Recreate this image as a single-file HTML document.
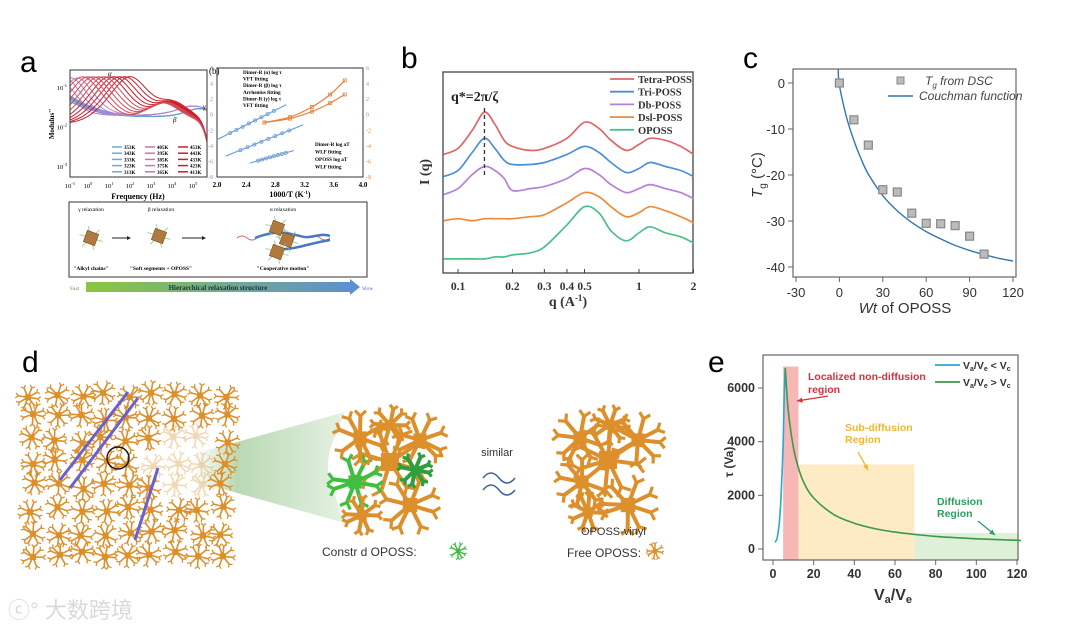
<!DOCTYPE html>
<html><head><meta charset="utf-8"><style>
html,body{margin:0;padding:0;background:#fff;width:1080px;height:628px;overflow:hidden}
svg{display:block}
text{font-family:"Liberation Sans",sans-serif}
.serif{font-family:"Liberation Serif",serif}
</style></head><body>
<svg id="fig" width="1080" height="628" viewBox="0 0 1080 628" xmlns="http://www.w3.org/2000/svg">
<defs>
<linearGradient id="arrowGrad" x1="0" x2="1"><stop offset="0" stop-color="#8cc63f"/><stop offset="1" stop-color="#5b8fd6"/></linearGradient>
<linearGradient id="coneGrad" x1="0" x2="1"><stop offset="0" stop-color="#fff" stop-opacity="0.6"/><stop offset="0.3" stop-color="#b9d9b4"/><stop offset="1" stop-color="#e6f1e2"/></linearGradient>
</defs>
<text x="20" y="72" font-size="30">a</text>
<text x="401" y="68" font-size="30">b</text>
<text x="743" y="68" font-size="30">c</text>
<text x="22" y="372" font-size="30">d</text>
<text x="708" y="372" font-size="30">e</text>

<g id="pa"></g>
<g id="pb"></g>
<g id="pc"></g>
<g id="pd"></g>
<g id="pe"></g>

<g opacity="0.55">
<text x="8" y="618" font-size="22" fill="#bbb" font-family="Liberation Sans, Noto Sans CJK SC, sans-serif">ⓒ° 大数跨境</text>
</g>
</svg>
<script>
const NS='http://www.w3.org/2000/svg';
function mk(tag,attrs,parent){const e=document.createElementNS(NS,tag);for(const k in attrs)e.setAttribute(k,attrs[k]);parent.appendChild(e);return e;}
function smooth(p){let d='M'+p[0][0].toFixed(1)+','+p[0][1].toFixed(1);for(let i=0;i<p.length-1;i++){const p0=p[i-1]||p[i],p1=p[i],p2=p[i+1],p3=p[i+2]||p2;const c1=[p1[0]+(p2[0]-p0[0])/6,p1[1]+(p2[1]-p0[1])/6],c2=[p2[0]-(p3[0]-p1[0])/6,p2[1]-(p3[1]-p1[1])/6];d+='C'+c1[0].toFixed(1)+','+c1[1].toFixed(1)+' '+c2[0].toFixed(1)+','+c2[1].toFixed(1)+' '+p2[0].toFixed(1)+','+p2[1].toFixed(1);}return d;}
function line(pts){return 'M'+pts.map(p=>p[0].toFixed(1)+','+p[1].toFixed(1)).join('L');}

/* ================= PANEL C ================= */
const cWt=[0,10,20,30,40,50,60,70,80,90,100];
const cTg=[0,-8,-13.5,-23.2,-23.7,-28.3,-30.5,-30.6,-31,-33.3,-37.2];
const cFitX=[-0.8,0,5,10,15,20,30,40,50,60,70,80,90,100,110,120];
const cFitY=[3,-0.5,-7.5,-12.5,-16.5,-19.8,-24.5,-27.8,-30.3,-32.3,-33.9,-35.3,-36.4,-37.3,-38.1,-38.7];
const cXTicks=[-30,0,30,60,90,120];
const cYTicks=[0,-10,-20,-30,-40];
(function(){
const g=document.getElementById('pc');
const X=v=>796+(v+30)*(217/150), Y=v=>83+(0-v)*4.6;
let el=mk('rect',{x:793,y:69,width:223,height:208,fill:'none',stroke:'#666','stroke-width':1.2},g);


cXTicks.forEach(t=>{let tk=mk('line',{x1:X(t),x2:X(t),y1:277,y2:282,stroke:'#666'},g);


let tl=mk('text',{x:X(t),y:297,'font-size':13,'text-anchor':'middle',fill:'#333'},g);tl.textContent=t;

});
cYTicks.forEach(t=>{let tk=mk('line',{x1:788,x2:793,y1:Y(t),y2:Y(t),stroke:'#666'},g);


let tl=mk('text',{x:785,y:Y(t)+5,'font-size':13,'text-anchor':'end',fill:'#333'},g);tl.textContent=t;

});
let cl=mk('clipPath',{id:'cclip'},g);mk('rect',{x:793,y:69,width:223,height:208},cl);
let fit=mk('path',{d:smooth(cFitX.map((x,i)=>[X(x),Y(cFitY[i])])),fill:'none',stroke:'#2f77b5','stroke-width':1.4,'clip-path':'url(#cclip)'},g);


cWt.forEach((w,i)=>{let m=mk('rect',{x:X(w)-4,y:Y(cTg[i])-4,width:8,height:8,fill:'#bbb',stroke:'#888','stroke-width':1.2},g);

});
let lm=mk('rect',{x:897,y:77,width:7,height:7,fill:'#bbb',stroke:'#888'},g);


let lt=mk('text',{x:925,y:85,'font-size':12,'font-style':'italic',fill:'#444'},g);lt.innerHTML='T<tspan font-size="8" dy="3">g</tspan><tspan dy="-3"> from DSC</tspan>';


let ll=mk('line',{x1:888,x2:913,y1:96,y2:96,stroke:'#2f77b5','stroke-width':1.5},g);


let lt2=mk('text',{x:919,y:100,'font-size':12,'font-style':'italic',fill:'#444'},g);lt2.textContent='Couchman function';


let yt=mk('text',{x:0,y:0,'font-size':15,fill:'#333',transform:'translate(762,175) rotate(-90)','text-anchor':'middle'},g);yt.innerHTML='<tspan font-style="italic">T</tspan><tspan font-size="10" dy="4">g</tspan><tspan dy="-4"> (°C)</tspan>';


let xt=mk('text',{x:905,y:313,'font-size':15,'text-anchor':'middle',fill:'#333'},g);xt.innerHTML='<tspan font-style="italic">Wt</tspan> of OPOSS';


})();

/* ================= PANEL E ================= */
const eBlueX=[1,2,3,4,5,5.5,6];
const eBlueY=[250,400,900,2000,4000,5700,6750];
const eGreenX=[6,7,8,10,12,15,20,30,40,50,60,70,80,90,100,110,122];
const eGreenY=[6750,5600,4800,3800,3150,2500,1900,1280,960,760,630,540,470,420,380,350,320];
const eRegionX=[5,12.5,69.5,122];
const eRegionTop=[6800,3150,600];
const eXTicks=[0,20,40,60,80,100,120];
const eYTicks=[0,2000,4000,6000];
(function(){
const g=document.getElementById('pe');
const X=v=>773+v*(244/120), Y=v=>549-v*(161/6000);
const cols=['#f7b7b7','#fdebc4','#dff0d8'],names=['region-localized','region-subdiffusion','region-diffusion'];
for(let i=0;i<3;i++){let r=mk('rect',{x:X(eRegionX[i]),y:Y(eRegionTop[i]),width:Math.min(X(eRegionX[i+1]),1018)-X(eRegionX[i]),height:560-Y(eRegionTop[i]),fill:cols[i]},g);

}
let el=mk('rect',{x:763,y:355,width:255,height:205,fill:'none',stroke:'#666','stroke-width':1.2},g);


eXTicks.forEach(t=>{let tk=mk('line',{x1:X(t),x2:X(t),y1:560,y2:565,stroke:'#666'},g);


let tl=mk('text',{x:X(t),y:578,'font-size':12.5,'font-weight':'bold','text-anchor':'middle',fill:'#333'},g);tl.textContent=t;

});
eYTicks.forEach(t=>{let tk=mk('line',{x1:758,x2:763,y1:Y(t),y2:Y(t),stroke:'#666'},g);


let tl=mk('text',{x:755,y:Y(t)+4,'font-size':12.5,'font-weight':'bold','text-anchor':'end',fill:'#333'},g);tl.textContent=t;

});
let b=mk('path',{d:smooth(eBlueX.map((x,i)=>[X(x),Y(eBlueY[i])])),fill:'none',stroke:'#2aa7d6','stroke-width':1.6},g);


let gr=mk('path',{d:smooth(eGreenX.map((x,i)=>[X(x),Y(eGreenY[i])])),fill:'none',stroke:'#3a9a4a','stroke-width':1.6},g);


[['#2aa7d6',365,'<'],['#3a9a4a',382,'>']].forEach(a=>{let l=mk('line',{x1:935,x2:960,y1:a[1],y2:a[1],stroke:a[0],'stroke-width':1.8},g);


let t=mk('text',{x:963,y:a[1]+4,'font-size':10.5,'font-weight':'bold',fill:'#333'},g);t.innerHTML='V<tspan font-size="7" dy="2">a</tspan><tspan dy="-2">/V</tspan><tspan font-size="7" dy="2">e</tspan><tspan dy="-2"> '+(a[2]=='<'?'&lt;':'&gt;')+' V</tspan><tspan font-size="7" dy="2">c</tspan>';

});
const ann=[['Localized non-diffusion',808,380,'#d9303a'],['region',808,393,'#d9303a'],['Sub-diffusion',845,431,'#f2b632'],['Region',845,443,'#f2b632'],['Diffusion',937,505,'#2e9e5e'],['Region',937,517,'#2e9e5e']];
ann.forEach(a=>{let t=mk('text',{x:a[1],y:a[2],'font-size':10.5,'font-weight':'bold',fill:a[3]},g);t.textContent=a[0];

});
[[828,396,797,401,'#d9303a'],[858,452,868,470,'#f2b632'],[978,521,995,535,'#2e9e5e']].forEach(a=>{let l=mk('line',{x1:a[0],y1:a[1],x2:a[2],y2:a[3],stroke:a[4],'stroke-width':1.3},g);


const ang=Math.atan2(a[3]-a[1],a[2]-a[0]);let h=mk('path',{d:`M${a[2]},${a[3]}L${a[2]-6*Math.cos(ang-0.45)},${a[3]-6*Math.sin(ang-0.45)}L${a[2]-6*Math.cos(ang+0.45)},${a[3]-6*Math.sin(ang+0.45)}Z`,fill:a[4]},g);

});
let yt=mk('text',{x:0,y:0,'font-size':12,'font-weight':'bold',fill:'#333',transform:'translate(733,462) rotate(-90)','text-anchor':'middle'},g);yt.textContent='τ (Va)';


let xt=mk('text',{x:893,y:600,'font-size':16,'font-weight':'bold','text-anchor':'middle',fill:'#333'},g);xt.innerHTML='V<tspan font-size="11" dy="3">a</tspan><tspan dy="-3">/V</tspan><tspan font-size="11" dy="3">e</tspan>';


})();

/* ================= PANEL B ================= */
const bQ=[0.083,0.1,0.12,0.14,0.16,0.18,0.2,0.25,0.3,0.4,0.5,0.6,0.7,0.85,1,1.15,1.4,1.7,2];
const bTetra=[59,62,71,80,74,66,63,61,62,67,75,72,66,61,64,67,66,63,59];
const bTri=[48,51,60,67,62,56,54,54,55,59,63,60,55,50,52,55,53,51,48];
const bDb=[39,42,49,53,51,47,41,42,43,47,52,49,44,40,42,44,42,40,37];
const bDsl=[26,27,26,27,27,27,27,28,29,35,40,38,33,28,30,33,31,28,25];
const bOposs=[7,7,7,7,8,8,9,10,13,24,33,30,21,16,20,23,20,18,15];
const bNames=['Tetra-POSS','Tri-POSS','Db-POSS','Dsl-POSS','OPOSS'];
const bXTicks=[0.1,0.2,0.3,0.4,0.5,1,2];
(function(){
const g=document.getElementById('pb');
const X=q=>458+Math.log10(q/0.1)*181, Y=v=>273-v*2.01;
const series=[bTetra,bTri,bDb,bDsl,bOposs],cols=['#e06666','#4a90d9','#b57fdc','#ef8a3c','#4cc08a'];
let el=mk('rect',{x:443,y:72,width:250,height:201,fill:'none',stroke:'#444','stroke-width':1.3},g);


series.forEach((s,k)=>{let p=mk('path',{d:smooth(bQ.map((q,i)=>[X(q),Y(s[i])])),fill:'none',stroke:cols[k],'stroke-width':1.7},g);


let l=mk('line',{x1:610,x2:634,y1:79+k*12.7,y2:79+k*12.7,stroke:cols[k],'stroke-width':1.8},g);


let t=mk('text',{x:638,y:83+k*12.7,'font-size':10.5,'font-weight':'bold',class:'serif',fill:'#333'},g);t.textContent=bNames[k];

});
let dl=mk('line',{x1:X(0.14),x2:X(0.14),y1:108,y2:178,stroke:'#333','stroke-dasharray':'4,3','stroke-width':1.3},g);


let qt=mk('text',{x:451,y:101,'font-size':14,'font-weight':'bold',class:'serif',fill:'#222'},g);qt.textContent='q*=2π/ζ';


bXTicks.forEach(t=>{let tk=mk('line',{x1:X(t),x2:X(t),y1:273,y2:269,stroke:'#444'},g);


let tl=mk('text',{x:X(t),y:290,'font-size':11.5,'font-weight':'bold',class:'serif','text-anchor':'middle',fill:'#333'},g);tl.textContent=t;

});
let yt=mk('text',{x:0,y:0,'font-size':14,'font-weight':'bold',class:'serif',fill:'#333',transform:'translate(429,172) rotate(-90)','text-anchor':'middle'},g);yt.textContent='I (q)';


let xt=mk('text',{x:568,y:306,'font-size':14,'font-weight':'bold',class:'serif','text-anchor':'middle',fill:'#333'},g);xt.innerHTML='q (A<tspan font-size="9" dy="-5">-1</tspan><tspan dy="5">)</tspan>';


})();

/* ================= PANEL A ================= */
const aRedPeaks=[2.0,1.75,1.5,1.25,1.0,0.75,0.5,0.25,0.0,-0.25];
const aPurplePeaks=[-0.5,-0.8,-1.1,-1.4,-1.7];
const aBlueLevels=[0.07,0.065,0.06,0.055,0.05];
const aAlpha=[[2.0,-3.2],[2.95,1.3]];
const aBeta=[[2.12,-5.3],[3.18,-1.3]];
const aGamma=[[2.45,-6.2],[3.05,-4.6]];
const aWlf1=[[2.65,-1],[3.0,-0.3],[3.3,1.0],[3.55,2.6],[3.75,4.4]];
const aWlf2=[[2.65,-1],[3.0,-0.5],[3.3,0.4],[3.55,1.5],[3.75,2.6]];
(function(){
const g=document.getElementById('pa');
const X=L=>88+L*21, Y=lm=>88-(lm+1)*39.5;
let cp=mk('clipPath',{id:'aclip'},g);mk('rect',{x:70,y:70,width:137,height:107},cp);
const D=x=>2*x/(1+x*x);
const Ls=[];for(let L=-1.2;L<=5.8;L+=0.1)Ls.push(L);
aBlueLevels.forEach((a,i)=>{const pts=Ls.map(L=>{let m=0.018+(a-0.018)*Math.pow(10,-0.45*(L+1))+0.012*D(Math.pow(10,0.8*(L-5.3)));return [X(L),Y(Math.log10(m))];});
let p=mk('path',{d:line(pts),fill:'none',stroke:['#5b9bd5','#6aa8dc','#4f8fcf','#7ab3e0','#5fa0d8'][i],'stroke-width':1.1,'clip-path':'url(#aclip)'},g);

});
aPurplePeaks.forEach((pk,i)=>{const pts=Ls.map(L=>{let m=0.16*D(Math.pow(10,L-pk))+0.02+0.015*D(Math.pow(10,0.7*(L-5)));return [X(L),Y(Math.log10(m))];});
let p=mk('path',{d:line(pts),fill:'none',stroke:'#b784c9','stroke-width':1,'clip-path':'url(#aclip)'},g);

});
aRedPeaks.forEach((pk,i)=>{const pts=Ls.map(L=>{let m=(0.18*D(Math.pow(10,0.85*(L-pk)))+0.03*D(Math.pow(10,0.7*(L-4+i*0.05)))+0.012)/(1+Math.pow(10,3*(L-5.55)));return [X(L),Y(Math.log10(m))];});
let p=mk('path',{d:line(pts),fill:'none',stroke:i<5?'#c8202b':'#d44a5a','stroke-width':1,'clip-path':'url(#aclip)'},g);

});
let f=mk('rect',{x:70,y:70,width:137,height:107,fill:'none',stroke:'#333'},g);


[-1,0,1,2,3,4,5].forEach(L=>{let t=mk('text',{x:X(L)+(L==-1?3:0),y:188,'font-size':6.5,'text-anchor':'middle',class:'serif'},g);t.innerHTML='10<tspan font-size="4.5" dy="-3">'+L+'</tspan>';

});
[-1,-2,-3].forEach(l=>{let t=mk('text',{x:67,y:Y(l)+2,'font-size':6.5,'text-anchor':'end',class:'serif'},g);t.innerHTML='10<tspan font-size="4.5" dy="-3">'+l+'</tspan>';

});
let xt=mk('text',{x:138,y:199,'font-size':8,'font-weight':'bold',class:'serif','text-anchor':'middle'},g);xt.textContent='Frequency (Hz)';


let yt=mk('text',{x:0,y:0,'font-size':7,'font-weight':'bold',class:'serif','text-anchor':'middle',transform:'translate(54,124) rotate(-90)'},g);yt.textContent="Modulus''";


const temps=[['353K','405K','453K'],['343K','395K','443K'],['333K','385K','433K'],['323K','375K','423K'],['313K','365K','413K']];
const tc=['#6fa8dc','#c27ba0','#c8202b'];
temps.forEach((row,r)=>row.forEach((tt,c)=>{let l=mk('line',{x1:112+c*33,x2:122+c*33,y1:147+r*6.2,y2:147+r*6.2,stroke:tc[c],'stroke-width':1.5},g);


let t=mk('text',{x:124+c*33,y:149+r*6.2,'font-size':5,'font-weight':'bold',class:'serif'},g);t.textContent=tt;

}));
[['α',108,76],['β',173,122],['γ',203,109]].forEach(a=>{let t=mk('text',{x:a[1],y:a[2],'font-size':7,'font-style':'italic',class:'serif'},g);t.textContent=a[0];

});
const X2=v=>217+(v-2)*73, Y2=t=>68+(6-t)*7.79;
let f2=mk('rect',{x:217,y:68,width:146,height:109,fill:'none',stroke:'#333'},g);


[[aAlpha,'#6fa0d8'],[aBeta,'#6fa0d8'],[aGamma,'#6fa0d8']].forEach(s=>{const a=s[0];let l=mk('line',{x1:X2(a[0][0]),y1:Y2(a[0][1]),x2:X2(a[1][0]),y2:Y2(a[1][1]),stroke:s[1],'stroke-width':1.2},g);


for(let k=1;k<9;k++){const u=0.1+k*0.09;let c=mk('circle',{cx:X2(a[0][0]+(a[1][0]-a[0][0])*u),cy:Y2(a[0][1]+(a[1][1]-a[0][1])*u),r:1.6,fill:'none',stroke:s[1],'stroke-width':0.8},g);

}});
[aWlf1,aWlf2].forEach(a=>{let p=mk('path',{d:smooth(a.map(q=>[X2(q[0]),Y2(q[1])])),fill:'none',stroke:'#e8823a','stroke-width':1.2},g);


a.forEach(q=>{let c=mk('rect',{x:X2(q[0])-1.5,y:Y2(q[1])-1.5,width:3,height:3,fill:'none',stroke:'#e8823a','stroke-width':0.8},g);

});});
[2.0,2.4,2.8,3.2,3.6,4.0].forEach(v=>{let t=mk('text',{x:X2(v),y:187,'font-size':7,'font-weight':'bold',class:'serif','text-anchor':'middle'},g);t.textContent=v.toFixed(1);

});
[6,4,2,0,-2,-4,-6,-8].forEach(v=>{let t=mk('text',{x:213,y:Y2(v)+2,'font-size':6,'text-anchor':'end',fill:'#6fa0d8',class:'serif'},g);t.textContent=v;


let t2=mk('text',{x:366,y:Y2(v)+2,'font-size':6,fill:'#e8823a',class:'serif'},g);t2.textContent=v;

});
let xt2=mk('text',{x:290,y:197,'font-size':8,'font-weight':'bold',class:'serif','text-anchor':'middle'},g);xt2.innerHTML='1000/T (K<tspan font-size="5" dy="-3">-1</tspan><tspan dy="3">)</tspan>';


let bl=mk('text',{x:209,y:74,'font-size':9,class:'serif'},g);bl.textContent='(b)';


const leg=['Dimer-R (α) log τ','VFT fitting','Dimer-R (β) log τ','Arrhenius fitting','Dimer-R (γ) log τ','VFT fitting'];
leg.forEach((s,i)=>{let t=mk('text',{x:243,y:74+i*6.6,'font-size':5.2,'font-weight':'bold',class:'serif'},g);t.textContent=s;

});
const leg2=['Dimer-R log aT','WLF fitting','OPOSS log aT','WLF fitting'];
leg2.forEach((s,i)=>{let t=mk('text',{x:315,y:146+i*7.5,'font-size':5.2,'font-weight':'bold',class:'serif'},g);t.textContent=s;

});
let bx=mk('rect',{x:69,y:202,width:298,height:75,fill:'none',stroke:'#333','stroke-width':1},g);


[['γ relaxation',91,211],['β relaxation',161,211],['α relaxation',283,211]].forEach(a=>{let t=mk('text',{x:a[1],y:a[2],'font-size':5.5,class:'serif','text-anchor':'middle'},g);t.textContent=a[0];

});
[['"Alkyl chains"',91,270],['"Soft segments + OPOSS"',161,270],['"Cooperative motion"',283,270]].forEach(a=>{let t=mk('text',{x:a[1],y:a[2],'font-size':5.5,'font-weight':'bold',class:'serif','text-anchor':'middle'},g);t.textContent=a[0];

});
let cw=mk('path',{d:'M237,238 q5,-4 10,0 t10,0 M310,238 q5,-4 10,0 t10,0',fill:'none',stroke:'#e06060','stroke-width':1},g);


let bc=mk('path',{d:'M255,238 C275,230 285,232 300,236 C310,240 320,232 330,236 M275,248 C290,252 305,244 330,240',fill:'none',stroke:'#4a78c0','stroke-width':2.5},g);


[[91,238],[159,236],[277,228],[287,240],[277,252]].forEach(c=>{for(let k=0;k<6;k++){const a=k*Math.PI/3+0.3;let br=mk('line',{x1:c[0],y1:c[1],x2:c[0]+12*Math.cos(a),y2:c[1]+12*Math.sin(a),stroke:'#8bc48a','stroke-width':0.8},g);

}
let cb=mk('rect',{x:c[0]-6,y:c[1]-6,width:12,height:12,fill:'#b07a3e',stroke:'#7a5226','stroke-width':0.6,transform:`rotate(20 ${c[0]} ${c[1]})`},g);

});
[[112,238,128,238],[182,238,203,238]].forEach(a=>{let l=mk('line',{x1:a[0],y1:a[1],x2:a[2],y2:a[3],stroke:'#222','stroke-width':1},g);


let h=mk('path',{d:`M${a[2]+3},${a[3]}l-4,-2v4z`,fill:'#222'},g);

});
let ar=mk('path',{d:'M86,282 H350 V279 L360,287 L350,295 V292 H86 Z',fill:'url(#arrowGrad)'},g);


let at=mk('text',{x:218,y:290,'font-size':7,'font-weight':'bold',class:'serif','text-anchor':'middle',fill:'#1a2f4a'},g);at.textContent='Hierarchical relaxation structure';


let fa=mk('text',{x:70,y:290,'font-size':5.5,class:'serif',fill:'#6a9a3a'},g);fa.textContent='Fast';


let sl=mk('text',{x:362,y:290,'font-size':5.5,class:'serif',fill:'#4a78c0'},g);sl.textContent='Slow';


})();

/* ================= PANEL D (illustration) ================= */
(function(){
const g=document.getElementById('pd');
let seed=7;const rnd=()=>{seed=(seed*16807)%2147483647;return seed/2147483647;};
function star(cx,cy,r,col,w,parent){const gg=mk('g',{},parent);for(let k=0;k<8;k++){const a=k*Math.PI/4+rnd()*0.5;const ex=cx+r*Math.cos(a),ey=cy+r*Math.sin(a);mk('line',{x1:cx,y1:cy,x2:ex,y2:ey,stroke:col,'stroke-width':w,'stroke-linecap':'round'},gg);mk('line',{x1:ex,y1:ey,x2:ex+r*0.35*Math.cos(a+0.8),y2:ey+r*0.35*Math.sin(a+0.8),stroke:col,'stroke-width':w*0.8},gg);mk('line',{x1:ex,y1:ey,x2:ex+r*0.35*Math.cos(a-0.8),y2:ey+r*0.35*Math.sin(a-0.8),stroke:col,'stroke-width':w*0.8},gg);}mk('rect',{x:cx-r*0.3,y:cy-r*0.3,width:r*0.6,height:r*0.6,fill:col},gg);return gg;}
let cone=mk('path',{d:'M190,455 L345,412 Q320,470 345,523 L190,480 Z',fill:'url(#coneGrad)'},g);


let wc=mk('circle',{cx:390,cy:466,r:62,fill:'#fff'},g);


const lat=mk('g',{},g);


for(let r=0;r<8;r++)for(let c=0;c<9;c++){const x=28+c*24+rnd()*8,y=390+r*23+rnd()*8;const green=(x-0.55*(600-y))>-240&&(x-0.55*(600-y))<-175&&rnd()<0.7;const faded=x>150&&x<215&&y>430&&y<500;const s=star(x,y,10,green?'#3fbf3f':'#dc8f2a',1.6,lat);if(faded)s.setAttribute('opacity','0.35');}
[[60,480,128,392],[70,488,138,398],[135,540,158,468]].forEach(a=>{let l=mk('line',{x1:a[0],y1:a[1],x2:a[2],y2:a[3],stroke:'#6a60d0','stroke-width':3},g);

});
let ci=mk('circle',{cx:118,cy:458,r:11,fill:'none',stroke:'#111','stroke-width':1.4},g);


const c1=mk('g',{},g);


[[390,462,30,'#dc8f2a'],[355,482,22,'#3fbf3f'],[410,505,24,'#dc8f2a'],[360,438,22,'#dc8f2a'],[420,440,22,'#dc8f2a'],[362,515,16,'#dc8f2a'],[415,470,14,'#2e9e3e'],[390,425,16,'#dc8f2a']].forEach(s=>star(s[0],s[1],s[2],s[3],4,c1));
const c2=mk('g',{},g);


[[608,460,30,'#dc8f2a'],[582,482,22,'#dc8f2a'],[628,505,24,'#dc8f2a'],[580,438,22,'#dc8f2a'],[638,440,22,'#dc8f2a'],[588,512,16,'#dc8f2a'],[610,425,16,'#dc8f2a']].forEach(s=>star(s[0],s[1],s[2],s[3],4,c2));
let sim=mk('text',{x:497,y:456,'font-size':11,'text-anchor':'middle',fill:'#333'},g);sim.textContent='similar';


let wv=mk('path',{d:'M483,478 q8,-10 16,0 t16,0 M483,490 q8,-10 16,0 t16,0',fill:'none',stroke:'#3a5f9a','stroke-width':1.5},g);


let t1=mk('text',{x:322,y:556,'font-size':12,fill:'#333'},g);t1.textContent='Constr       d OPOSS:';


let s1=star(458,551,7,'#3fbf3f',1.5,g);


let t2=mk('text',{x:581,y:535,'font-size':11,fill:'#333'},g);t2.textContent='OPOSS-vinyl';


let t3=mk('text',{x:567,y:557,'font-size':12,fill:'#333'},g);t3.textContent='Free OPOSS:';


let s2=star(655,551,7,'#dc8f2a',1.5,g);


})();
</script>
</body></html>
